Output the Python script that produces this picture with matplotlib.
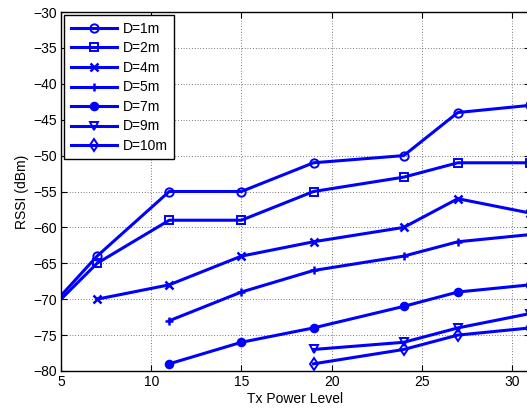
import matplotlib
matplotlib.use("Agg")
import matplotlib.pyplot as plt

plt.rcParams['font.family'] = ['Liberation Sans', 'DejaVu Sans']
plt.rcParams['axes.unicode_minus'] = True

labels = ['D=1m', 'D=2m', 'D=4m', 'D=5m', 'D=7m', 'D=9m', 'D=10m']
markers = ['o', 's', 'x', '+', 'o', 'v', 'd']
fills = ['none', 'none', 'full', 'full', 'full', 'none', 'none']

x_d1 = [3, 7, 11, 15, 19, 24, 27, 31]
y_d1 = [-75, -64, -55, -55, -51, -50, -44, -43]
x_d2 = [3, 7, 11, 15, 19, 24, 27, 31]
y_d2 = [-75, -65, -59, -59, -55, -53, -51, -51]
x_d4 = [7, 11, 15, 19, 24, 27, 31]
y_d4 = [-70, -68, -64, -62, -60, -56, -58]
x_d5 = [11, 15, 19, 24, 27, 31]
y_d5 = [-73, -69, -66, -64, -62, -61]
x_d7 = [11, 15, 19, 24, 27, 31]
y_d7 = [-79, -76, -74, -71, -69, -68]
x_d9 = [19, 24, 27, 31]
y_d9 = [-77, -76, -74, -72]
x_d10 = [19, 24, 27, 31]
y_d10 = [-79, -77, -75, -74]

xs = [x_d1, x_d2, x_d4, x_d5, x_d7, x_d9, x_d10]
ys = [y_d1, y_d2, y_d4, y_d5, y_d7, y_d9, y_d10]

xticks = [5, 10, 15, 20, 25, 30]
yticks = [-80, -75, -70, -65, -60, -55, -50, -45, -40, -35, -30]

fig = plt.figure(figsize=(5.27, 4.09), dpi=100)
ax = fig.add_axes([61/527, 38/409, (530-61)/527, (371-12)/409])

blue = (0, 0, 1)
for x, y, lab, m, f in zip(xs, ys, labels, markers, fills):
    msize = 6.0
    mew = 1.4
    if m == 'o' and f == 'full':
        msize = 5.5
    if m in ('x', '+'):
        mew = 1.8
        msize = 5.5
    ax.plot(x, y, color=blue, lw=2.2, marker=m, markersize=msize,
            markerfacecolor='none' if f == 'none' else blue,
            markeredgecolor=blue, markeredgewidth=mew, label=lab)

ax.set_xlim(5, 31)
ax.set_ylim(-80, -30)
ax.set_xticks(xticks)
ax.set_yticks(yticks)
ax.tick_params(direction='in', length=4, width=0.8, top=True, right=True,
               labelsize=10, colors='black', pad=3)
ax.grid(True, color='black', linestyle=(0, (1, 3)), linewidth=0.5)
for s in ax.spines.values():
    s.set_linewidth(1.0)
    s.set_color('black')

ax.set_xlabel('Tx Power Level', fontsize=10, labelpad=2)
ax.set_ylabel('RSSI (dBm)', fontsize=10, labelpad=3)

leg = ax.legend(loc='upper left', fontsize=10, handlelength=3.3,
                fancybox=False, edgecolor='black', framealpha=1,
                borderaxespad=0.25, labelspacing=0.4, handletextpad=0.45,
                borderpad=0.45)
leg.get_frame().set_linewidth(1.0)

fig.savefig('out.png', dpi=100)
